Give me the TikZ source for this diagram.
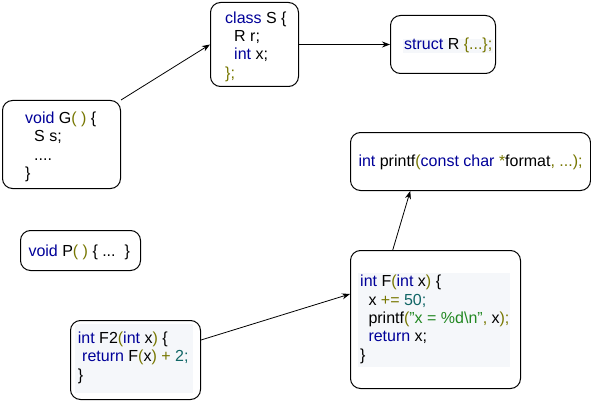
\documentclass[tikz,border=0pt]{standalone}
\usepackage{fontspec}
\setmainfont{Liberation Sans}
\usetikzlibrary{arrows.meta,calc}
\definecolor{kwc}{RGB}{0,0,153}
\definecolor{brc}{RGB}{119,119,0}
\definecolor{nmc}{RGB}{17,102,102}
\definecolor{stc}{RGB}{34,136,34}
\definecolor{codebg}{RGB}{245,247,250}
\newcommand{\kw}[1]{\textcolor{kwc}{#1}}
\newcommand{\br}[1]{\textcolor{brc}{#1}}
\newcommand{\nm}[1]{\textcolor{nmc}{#1}}
\newcommand{\stq}[1]{\textcolor{stc}{#1}}
\begin{document}
\begin{tikzpicture}[x=1pt,y=-1pt,
  box/.style={draw, rounded corners=10pt, line width=1pt, anchor=north west, inner sep=0pt},
  code/.style={anchor=base west, inner sep=0pt, font=\fontsize{16}{18}\selectfont},
  link/.style={-{Stealth[length=8pt,width=6pt]}, line width=0.8pt}]
\useasboundingbox (0,0) rectangle (591,401);
\fill[white] (0,0) rectangle (591,401);
% code backgrounds
\fill[codebg] (403,39) rectangle (493,53);
\fill[codebg] (358,272.7) rectangle (510,367.3);
\fill[codebg] (75,324) rectangle (193,393);
% boxes
\node[box, minimum width=88pt, minimum height=84pt] (S) at (210,2) {};
\node[box, minimum width=105pt, minimum height=58pt] (R) at (390,15) {};
\node[box, minimum width=118pt, minimum height=88pt] (G) at (2,100) {};
\node[box, minimum width=240pt, minimum height=58pt] (PF) at (350,132) {};
\node[box, minimum width=120pt, minimum height=40pt] (P) at (20,230) {};
\node[box, minimum width=170pt, minimum height=138pt] (F) at (350,250) {};
\node[box, minimum width=130pt, minimum height=79pt] (F2) at (70,320) {};
% class S
\node[code] (s1) at (225,23.3) {\kw{class} S \{};
\node[code] (s2) at (234,41.6) {R r;};
\node[code] (s3) at (234,60) {\kw{int} x;};
\node[code] (s4) at (225,78.3) {\br{\};}};
% struct R
\node[code] (r1) at (404,49.3) {\kw{struct} R \br{\{...\};}};
% G
\node[code] (g1) at (25,123.3) {\kw{void} G\br{( )} \{};
\node[code] (g2) at (34,141.6) {S s;};
\node[code] (g3) at (34,160) {....};
\node[code] (g4) at (25,178.3) {\}};
% printf
\node[code] (pf1) at (358.3,166.7) {\kw{int} printf\br{(}\kw{const char} \br{*}format\br{, ...);}};
% P
\node[code] (p1) at (28.3,256.7) {\kw{void} P\br{( )} \{ ...\ \ \}};
% F
\node[code] (f1) at (360,286.7) {\kw{int} F\br{(}\kw{int} x\br{)} \{};
\node[code] (f2) at (368.3,305) {x \br{+=} \nm{50;}};
\node[code] (f3) at (368.3,323.3) {printf\br{(}\stq{\symbol{34}x = \%d\textbackslash n\symbol{34}}\br{,} x\br{);}};
\node[code] (f4) at (368.3,341.7) {\kw{return} x;};
\node[code] (f5) at (360,360) {\}};
% F2
\node[code] (h1) at (77.7,343.3) {\kw{int} F2\br{(}\kw{int} x\br{)} \{};
\node[code] (h2) at (82,361.7) {\kw{return} F\br{(}x\br{)} \br{+} \nm{2;}};
\node[code] (h3) at (77.7,380) {\}};
% connectors
\draw[link] (G.north east) -- (S.west);
\draw[link] (S.east) -- (R.west);
\draw[link] ($(F.north west)!0.25!(F.north east)$) -- ($(PF.south west)!0.25!(PF.south east)$);
\draw[link] ([yshift=-20pt]F2.north east) -- ([yshift=-44pt]F.north west);
\end{tikzpicture}
\end{document}
